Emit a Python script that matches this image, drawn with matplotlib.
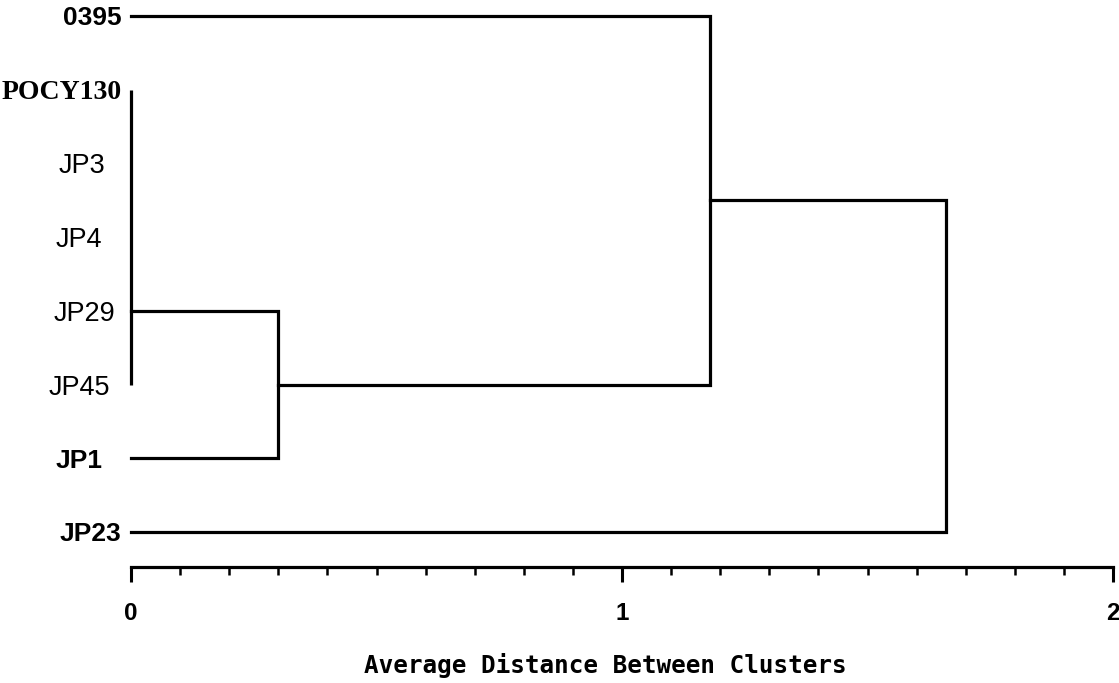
import matplotlib
matplotlib.use('Agg')
import matplotlib.pyplot as plt
import matplotlib.transforms as mtransforms
import numpy as np
from matplotlib.ticker import MultipleLocator

# leaves, top to bottom
leaf_names = ['0395', 'POCY130', 'JP3', 'JP4', 'JP29', 'JP45', 'JP1', 'JP23']

# leaves joined at distance 0 (drawn as one vertical bar), joined onward from JP29
tie_group = ['POCY130', 'JP3', 'JP4', 'JP29', 'JP45']
tie_anchor = 'JP29'
tie_height = 0.0

# later merges: (left, right, new node, distance)
merge_left = ['TIE', '0395', 'M2']
merge_right = ['JP1', 'M1', 'JP23']
merge_name = ['M1', 'M2', 'M3']
merge_dist = [0.30, 1.18, 1.66]

x_ticks = [0, 1, 2]
x_ticklabels = ['0', '1', '2']
x_title = 'Average Distance Between Clusters'

# label styling per leaf (the original mixes fonts and alignment)
bold_leaves = ['0395', 'JP1', 'JP23']
serif_leaves = ['POCY130']
label_shift_px = [0, 0, -16, -19, -6, -11, -19, 0]

fig = plt.figure(figsize=(11.19, 6.83), dpi=100)
ax = fig.add_axes([131/1119, (683-567)/683, 982/1119, 567/683])

lw = 2.3
ypos = {n: i for i, n in enumerate(leaf_names)}
hpos = {n: 0.0 for n in leaf_names}

# tie cluster
tie_y = [ypos[n] for n in tie_group]
ax.plot([tie_height, tie_height], [min(tie_y), max(tie_y)], color='black', lw=lw,
        clip_on=False, solid_capstyle='butt')
ypos['TIE'] = ypos[tie_anchor]
hpos['TIE'] = tie_height

for l, r, m, d in zip(merge_left, merge_right, merge_name, merge_dist):
    yl, yr = ypos[l], ypos[r]
    ax.plot([hpos[l], d, d, hpos[r]], [yl, yl, yr, yr], color='black', lw=lw,
            clip_on=False, solid_joinstyle='miter')
    ypos[m] = (yl + yr) / 2.0
    hpos[m] = d

ax.set_xlim(0, 2)
ax.set_ylim(7.476, -0.217)

for s in ['left', 'top', 'right']:
    ax.spines[s].set_visible(False)
ax.spines['bottom'].set_linewidth(2.3)

ax.set_xticks(x_ticks)
ax.set_xticklabels(x_ticklabels, fontsize=17.5, fontweight='bold',
                   family=['Liberation Sans', 'DejaVu Sans'])
ax.xaxis.set_minor_locator(MultipleLocator(0.1))
ax.tick_params(axis='x', which='major', length=11, width=2.2, pad=14, direction='out')
ax.tick_params(axis='x', which='minor', length=6, width=1.8, direction='out')

ax.set_yticks(range(len(leaf_names)))
ax.set_yticklabels(leaf_names)
ax.tick_params(axis='y', length=0, pad=7)
for t, dx in zip(ax.get_yticklabels(), label_shift_px):
    name = t.get_text()
    if name in bold_leaves:
        t.set_family(['Liberation Sans', 'DejaVu Sans'])
        t.set_fontweight('bold')
        t.set_fontsize(19)
    elif name in serif_leaves:
        t.set_family(['Liberation Serif', 'DejaVu Serif'])
        t.set_fontweight('bold')
        t.set_fontsize(20)
    else:
        t.set_family(['Liberation Sans', 'DejaVu Sans'])
        t.set_fontsize(19.5)
    if dx:
        t.set_transform(t.get_transform() +
                        mtransforms.ScaledTranslation(dx/100, 0, fig.dpi_scale_trans))

ax.set_xlabel(x_title, fontsize=17.5, fontweight='bold',
              family=['DejaVu Sans Mono'], va='center')
ax.xaxis.set_label_coords((605-131)/982, (567-665)/567)

fig.savefig('out.png', dpi=100)
